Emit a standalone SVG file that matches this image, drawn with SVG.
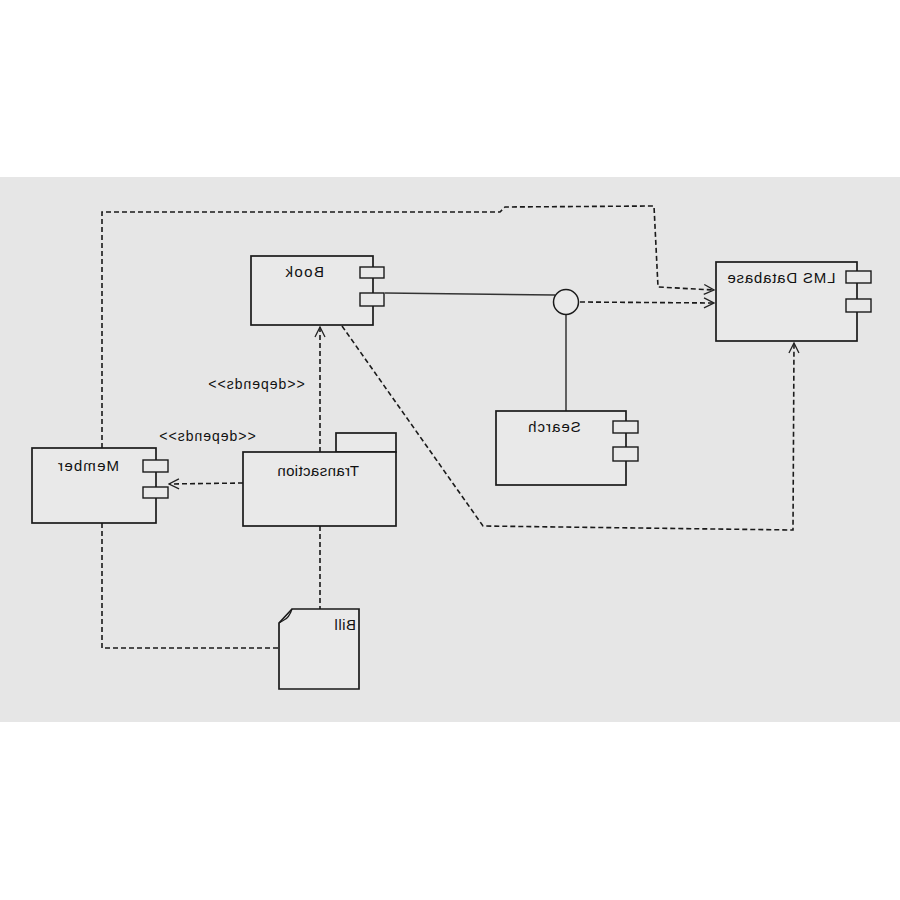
<svg xmlns="http://www.w3.org/2000/svg" width="900" height="900" viewBox="0 0 900 900">
<defs>
<marker id="open" viewBox="0 0 12 12" refX="11" refY="6" markerWidth="12" markerHeight="12" markerUnits="userSpaceOnUse" orient="auto">
<path d="M1,1 L11,6 L1,11" fill="none" stroke="#222" stroke-width="1.3"/>
</marker>
</defs>
<style>
.box{fill:#e9e9e9;stroke:#1a1a1a;stroke-width:1.7}
.tab{fill:#e9e9e9;stroke:#1a1a1a;stroke-width:1.4}
.lbl{font-family:"Liberation Sans",Arial,sans-serif;font-size:15px;fill:#111;text-anchor:middle}
.st{font-family:"Liberation Sans",Arial,sans-serif;font-size:14px;fill:#111;text-anchor:middle;letter-spacing:1px}
.dash{fill:none;stroke:#1a1a1a;stroke-width:1.6;stroke-dasharray:5 3}
.solid{fill:none;stroke:#333;stroke-width:1.5}
</style>
<rect x="0" y="0" width="900" height="900" fill="#ffffff"/>
<rect x="0" y="177" width="900" height="545" fill="#e6e6e6"/>

<g id="connectors">
<path class="dash" d="M102,448 L102,212 L500,212 L505,207 L654,206 L658,287 L714,290" marker-end="url(#open)"/>
<path class="dash" d="M580,302 L714,303" marker-end="url(#open)"/>
<path class="solid" d="M385,293 L555,295"/>
<path class="solid" d="M566,315 L566,411"/>
<path class="dash" d="M342,326 L483,526 L793,530 L794,343" marker-end="url(#open)"/>
<path class="dash" d="M320,452 L320,327" marker-end="url(#open)"/>
<path class="dash" d="M320,526 L320,609"/>
<path class="dash" d="M243,483 L169,484" marker-end="url(#open)"/>
<path class="dash" d="M102,523 L102,648 L279,648"/>
<text class="st" x="256" y="389" transform="matrix(-1 0 0 1 512 0)">&lt;&lt;depends&gt;&gt;</text>
<text class="st" x="207" y="441" transform="matrix(-1 0 0 1 414 0)">&lt;&lt;depends&gt;&gt;</text>
</g>

<g id="book">
<rect class="box" x="251" y="256" width="122" height="69"/>
<rect class="tab" x="360" y="267" width="24" height="11"/>
<rect class="tab" x="360" y="293" width="24" height="13"/>
<text class="lbl" x="304" y="277" letter-spacing="1.5" transform="matrix(-1 0 0 1 608 0)">Book</text>
</g>

<g id="lms-database">
<rect class="box" x="716" y="262" width="141" height="79"/>
<rect class="tab" x="846" y="271" width="25" height="12"/>
<rect class="tab" x="846" y="299" width="25" height="13"/>
<text class="lbl" x="781" y="283" letter-spacing="0.8" transform="matrix(-1 0 0 1 1562 0)">LMS Database</text>
</g>

<g id="interface">
<circle cx="566" cy="302" r="12.5" fill="#e9e9e9" stroke="#1a1a1a" stroke-width="1.5"/>
</g>

<g id="search">
<rect class="box" x="496" y="411" width="130" height="74"/>
<rect class="tab" x="613" y="421" width="25" height="12"/>
<rect class="tab" x="613" y="447" width="25" height="14"/>
<text class="lbl" x="554" y="432" letter-spacing="1" transform="matrix(-1 0 0 1 1108 0)">Search</text>
</g>

<g id="member">
<rect class="box" x="32" y="448" width="124" height="75"/>
<rect class="tab" x="143" y="460" width="25" height="12"/>
<rect class="tab" x="143" y="487" width="25" height="11"/>
<text class="lbl" x="88" y="471" letter-spacing="1.2" transform="matrix(-1 0 0 1 176 0)">Member</text>
</g>

<g id="transaction">
<rect class="box" x="336" y="433" width="60" height="19"/>
<rect class="box" x="243" y="452" width="153" height="74"/>
<text class="lbl" x="318" y="476" letter-spacing="0.4" transform="matrix(-1 0 0 1 636 0)">Transaction</text>
</g>

<g id="bill">
<path class="box" d="M292,609 L359,609 L359,689 L279,689 L279,623 Z"/>
<path d="M292,609 Q289,618 284,620 L279,623" fill="none" stroke="#1a1a1a" stroke-width="1.3"/>
<text class="lbl" x="345" y="630" letter-spacing="0.5" transform="matrix(-1 0 0 1 690 0)">Bill</text>
</g>
</svg>
